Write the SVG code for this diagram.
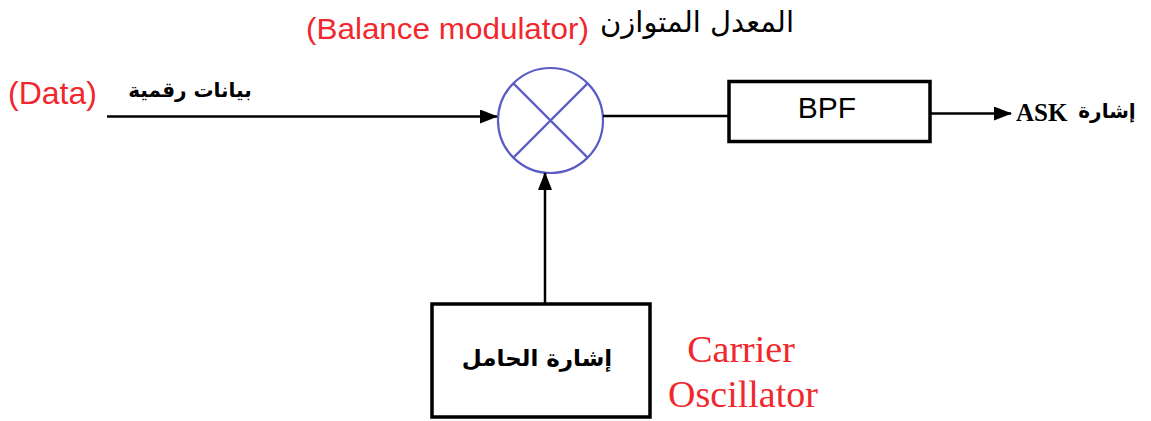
<svg xmlns="http://www.w3.org/2000/svg" width="1151" height="421" viewBox="0 0 1151 421">
<style>
.red{fill:#f0282d;font-family:"Liberation Sans",Arial,sans-serif}
.redt{fill:#f0282d;font-family:"Liberation Serif","Times New Roman",serif}
.ar{fill:#000;font-family:"DejaVu Sans",sans-serif}
.arb{fill:#000;font-family:"DejaVu Sans",sans-serif;font-weight:bold}
.box{fill:#fff;stroke:#000;stroke-width:3.5}
.ln{stroke:#000;stroke-width:2.5;fill:none}
</style>
<defs>
<marker id="ah" markerWidth="18" markerHeight="14" refX="17" refY="7" orient="auto" markerUnits="userSpaceOnUse">
<path d="M0,0 L18,7 L0,14 Z" fill="#000"/>
</marker>
</defs>
<g id="title">
<text class="red" x="306" y="39" font-size="30" textLength="283" lengthAdjust="spacingAndGlyphs">(Balance modulator)</text>
<text class="ar" x="697" y="32" font-size="29" text-anchor="middle">المعدل المتوازن</text>
</g>
<g id="data-label">
<text class="red" x="8" y="104" font-size="32">(Data)</text>
<text class="arb" x="190" y="97" font-size="20" text-anchor="middle">بيانات رقمية</text>
</g>
<g id="mixer">
<circle cx="550.5" cy="120.5" r="52.5" fill="#fff" stroke="#5a5cc4" stroke-width="2.2"/>
<line x1="513.4" y1="83.4" x2="587.6" y2="157.6" stroke="#5a5cc4" stroke-width="2.2"/>
<line x1="587.6" y1="83.4" x2="513.4" y2="157.6" stroke="#5a5cc4" stroke-width="2.2"/>
</g>
<g id="bpf">
<rect class="box" x="729" y="81.5" width="201" height="60"/>
<text x="827" y="118" font-size="30" text-anchor="middle" font-family="Liberation Sans,Arial,sans-serif" fill="#000">BPF</text>
</g>
<g id="output-label">
<text x="1016" y="121" font-size="25" font-weight="bold" font-family="Liberation Serif,Times New Roman,serif" fill="#000">ASK</text>
<text class="arb" x="1107" y="118" font-size="20" text-anchor="middle">إشارة</text>
</g>
<g id="carrier">
<rect class="box" x="432" y="304" width="218" height="113"/>
<text class="arb" x="537" y="366" font-size="23" text-anchor="middle">إشارة الحامل</text>
</g>
<g id="carrier-label">
<text class="redt" x="741" y="362" font-size="38" text-anchor="middle">Carrier</text>
<text class="redt" x="743" y="407" font-size="38" text-anchor="middle">Oscillator</text>
</g>
<g id="connectors">
<line class="ln" x1="107" y1="116.5" x2="497" y2="116.5" marker-end="url(#ah)"/>
<line class="ln" x1="603" y1="116" x2="729" y2="116"/>
<line class="ln" x1="930" y1="113.5" x2="1011" y2="113.5" marker-end="url(#ah)"/>
<line class="ln" x1="545" y1="304" x2="545" y2="173" marker-end="url(#ah)"/>
</g>
</svg>
